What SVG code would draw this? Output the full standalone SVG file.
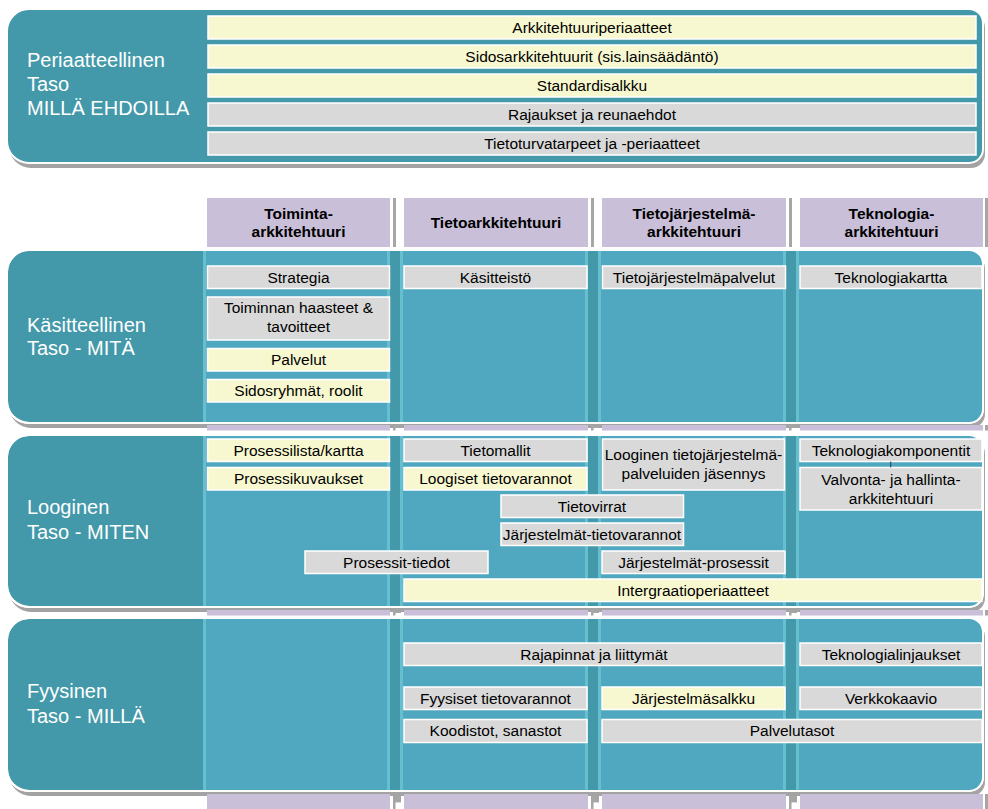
<svg xmlns="http://www.w3.org/2000/svg" xmlns:xlink="http://www.w3.org/1999/xlink" width="988" height="809" viewBox="0 0 988 809">
  <style>
    text { font-family: "Liberation Sans", Arial, sans-serif; }
    .bt { font-size: 15.5px; text-anchor: middle; fill: #000; }
    .ht { font-size: 15.5px; font-weight: bold; text-anchor: middle; fill: #000; }
    .lbl { font-size: 20px; fill: #fff; }
    .yel { fill: #F8F8D0; stroke: #fff; stroke-width: 1.5; }
    .gry { fill: #D9D9D9; stroke: #fff; stroke-width: 1.5; }
    .pnl { fill: #4399AA; stroke: #fff; stroke-width: 2; }
    .shd { fill: #A3A3A3; }
    .col { fill: #50A7C0; }
    .edge { fill: #66BFCF; }
    .pur { fill: #C9BFD9; }
    .sep { fill: #A6A6A6; }
  </style>
  <defs>
    <path id="pTop" d="M29,9 H969 A14,14 0 0 1 983,23 V149 A14,14 0 0 1 969,163 H29 A22,22 0 0 1 7,141 V31 A22,22 0 0 1 29,9 Z"/>
    <path id="pK" d="M29,250 H969 A14,14 0 0 1 983,264 V409 A14,14 0 0 1 969,423 H29 A22,22 0 0 1 7,401 V272 A22,22 0 0 1 29,250 Z"/>
    <path id="pL" d="M29,435 H969 A14,14 0 0 1 983,449 V593 A14,14 0 0 1 969,607 H29 A22,22 0 0 1 7,585 V457 A22,22 0 0 1 29,435 Z"/>
    <path id="pF" d="M29,618 H969 A14,14 0 0 1 983,632 V777 A14,14 0 0 1 969,791 H29 A22,22 0 0 1 7,769 V640 A22,22 0 0 1 29,618 Z"/>
    <clipPath id="cK"><use xlink:href="#pK"/></clipPath>
    <clipPath id="cL"><use xlink:href="#pL"/></clipPath>
    <clipPath id="cF"><use xlink:href="#pF"/></clipPath>
    <!-- column bands inside a level panel -->
    <g id="bands">
      <rect class="col" x="203" y="0" width="187" height="200"/>
      <rect class="col" x="400" y="0" width="188" height="200"/>
      <rect class="col" x="598" y="0" width="188" height="200"/>
      <rect class="col" x="796" y="0" width="192" height="200"/>
      <rect class="edge" x="203" y="0" width="3" height="200"/>
      <rect class="edge" x="387" y="0" width="3" height="200"/>
      <rect class="edge" x="400" y="0" width="3" height="200"/>
      <rect class="edge" x="585" y="0" width="3" height="200"/>
      <rect class="edge" x="598" y="0" width="3" height="200"/>
      <rect class="edge" x="783" y="0" width="3" height="200"/>
      <rect class="edge" x="796" y="0" width="3" height="200"/>
    </g>
    <!-- column strip + separator tick between level panels -->
    <g id="gap">
      <rect class="pur" x="207" y="0" width="183" height="5.5"/>
      <rect class="pur" x="404" y="0" width="184" height="5.5"/>
      <rect class="pur" x="602" y="0" width="184" height="5.5"/>
      <rect class="pur" x="800" y="0" width="183" height="5.5"/>
      <rect class="sep" x="393" y="0.5" width="8" height="2.5"/>
      <rect class="sep" x="393" y="0.5" width="2.5" height="5"/>
      <rect class="sep" x="591" y="0.5" width="8" height="2.5"/>
      <rect class="sep" x="591" y="0.5" width="2.5" height="5"/>
      <rect class="sep" x="789" y="0.5" width="8" height="2.5"/>
      <rect class="sep" x="789" y="0.5" width="2.5" height="5"/>
      <rect class="sep" x="985" y="0" width="3" height="5.5"/>
    </g>
  </defs>

  <rect width="988" height="809" fill="#fff"/>

  <!-- Periaatteellinen taso -->
  <g id="periaatteellinen">
    <use xlink:href="#pTop" class="shd" transform="translate(2,5)"/>
    <use xlink:href="#pTop" class="pnl"/>
    <text class="lbl" x="27" y="67">Periaatteellinen</text>
    <text class="lbl" x="27" y="91">Taso</text>
    <text class="lbl" x="27" y="115">MILLÄ EHDOILLA</text>
  </g>
  <g id="arkkitehtuuriperiaatteet"><rect class="yel" x="208" y="16" width="768" height="23"/><text class="bt" x="592" y="33">Arkkitehtuuriperiaatteet</text></g>
  <g id="sidosarkkitehtuurit"><rect class="yel" x="208" y="45" width="768" height="23"/><text class="bt" x="592" y="62">Sidosarkkitehtuurit (sis.lainsäädäntö)</text></g>
  <g id="standardisalkku"><rect class="yel" x="208" y="74" width="768" height="23"/><text class="bt" x="592" y="91">Standardisalkku</text></g>
  <g id="rajaukset"><rect class="gry" x="208" y="103" width="768" height="23"/><text class="bt" x="592" y="120">Rajaukset ja reunaehdot</text></g>
  <g id="tietoturvatarpeet"><rect class="gry" x="208" y="132" width="768" height="23"/><text class="bt" x="592" y="149">Tietoturvatarpeet ja -periaatteet</text></g>

  <!-- Column headers -->
  <g id="sarakkeet">
    <rect class="pur" x="207" y="198" width="183" height="49"/>
    <rect class="pur" x="404" y="198" width="184" height="49"/>
    <rect class="pur" x="602" y="198" width="184" height="49"/>
    <rect class="pur" x="800" y="198" width="183" height="49"/>
    <rect class="sep" x="393" y="198" width="3" height="49"/>
    <rect class="sep" x="591" y="198" width="3" height="49"/>
    <rect class="sep" x="789" y="198" width="3" height="49"/>
    <rect class="sep" x="985" y="198" width="3" height="49"/>
    <text class="ht" x="298.5" y="218.5">Toiminta-</text>
    <text class="ht" x="298.5" y="237">arkkitehtuuri</text>
    <text class="ht" x="496" y="228">Tietoarkkitehtuuri</text>
    <text class="ht" x="694" y="218.5">Tietojärjestelmä-</text>
    <text class="ht" x="694" y="237">arkkitehtuuri</text>
    <text class="ht" x="891.5" y="218.5">Teknologia-</text>
    <text class="ht" x="891.5" y="237">arkkitehtuuri</text>
  </g>

  <!-- Level panels -->
  <g id="kasitteellinen">
    <use xlink:href="#pK" class="shd" transform="translate(2,5)"/>
    <use xlink:href="#gap" y="425"/>
    <use xlink:href="#pK" class="pnl"/>
    <g clip-path="url(#cK)"><use xlink:href="#bands" y="240"/></g>
    <use xlink:href="#pK" fill="none" stroke="#fff" stroke-width="2"/>
    <text class="lbl" x="27" y="332">Käsitteellinen</text>
    <text class="lbl" x="27" y="355">Taso - MITÄ</text>
  </g>
  <g id="looginen">
    <use xlink:href="#pL" class="shd" transform="translate(2,5)"/>
    <use xlink:href="#gap" y="610"/>
    <use xlink:href="#pL" class="pnl"/>
    <g clip-path="url(#cL)"><use xlink:href="#bands" y="425"/></g>
    <use xlink:href="#pL" fill="none" stroke="#fff" stroke-width="2"/>
    <text class="lbl" x="27" y="514">Looginen</text>
    <text class="lbl" x="27" y="539">Taso - MITEN</text>
  </g>
  <g id="fyysinen">
    <use xlink:href="#pF" class="shd" transform="translate(2,5)"/>
    <g transform="translate(0,794) scale(1,2.8)"><use xlink:href="#gap"/></g>
    <use xlink:href="#pF" class="pnl"/>
    <g clip-path="url(#cF)"><use xlink:href="#bands" y="610"/></g>
    <use xlink:href="#pF" fill="none" stroke="#fff" stroke-width="2"/>
    <text class="lbl" x="27" y="698">Fyysinen</text>
    <text class="lbl" x="27" y="723">Taso - MILLÄ</text>
  </g>

  <!-- Käsitteellinen taso -->
  <g id="strategia"><rect class="gry" x="207.5" y="266" width="182" height="22.5"/><text class="bt" x="298.5" y="282.5">Strategia</text></g>
  <g id="haasteet"><rect class="gry" x="207.5" y="297" width="182" height="43"/><text class="bt" x="298.5" y="313">Toiminnan haasteet &amp;</text><text class="bt" x="298.5" y="332">tavoitteet</text></g>
  <g id="palvelut"><rect class="yel" x="207.5" y="348.5" width="182" height="22.5"/><text class="bt" x="298.5" y="365">Palvelut</text></g>
  <g id="sidosryhmat"><rect class="yel" x="207.5" y="379.5" width="182" height="22.5"/><text class="bt" x="298.5" y="396">Sidosryhmät, roolit</text></g>
  <g id="kasitteisto"><rect class="gry" x="404" y="266" width="183" height="22.5"/><text class="bt" x="495.5" y="282.5">Käsitteistö</text></g>
  <g id="tjpalvelut"><rect class="gry" x="602.5" y="266" width="183" height="22.5"/><text class="bt" x="694" y="282.5">Tietojärjestelmäpalvelut</text></g>
  <g id="teknologiakartta"><rect class="gry" x="800" y="266" width="182" height="22.5"/><text class="bt" x="891" y="282.5">Teknologiakartta</text></g>

  <!-- Looginen taso -->
  <g id="prosessilista"><rect class="yel" x="207.5" y="439" width="182" height="22.5"/><text class="bt" x="298.5" y="455.5">Prosessilista/kartta</text></g>
  <g id="prosessikuvaukset"><rect class="yel" x="207.5" y="467.5" width="182" height="22.5"/><text class="bt" x="298.5" y="484">Prosessikuvaukset</text></g>
  <g id="tietomallit"><rect class="gry" x="404" y="439" width="183" height="22.5"/><text class="bt" x="495.5" y="455.5">Tietomallit</text></g>
  <g id="loogisettietovarannot"><rect class="yel" x="404" y="467.5" width="183" height="22.5"/><text class="bt" x="495.5" y="484">Loogiset tietovarannot</text></g>
  <g id="tjjasennys"><rect class="gry" x="602.5" y="439" width="182" height="51"/><text class="bt" x="693.5" y="460">Looginen tietojärjestelmä-</text><text class="bt" x="693.5" y="478.5">palveluiden jäsennys</text></g>
  <g id="teknologiakomponentit"><rect class="gry" x="800" y="439" width="182" height="22.5"/><text class="bt" x="891" y="455.5">Teknologiakomponentit</text></g>
  <g id="valvonta"><rect class="gry" x="800" y="467.5" width="182" height="42.5"/><text class="bt" x="891" y="485">Valvonta- ja hallinta-</text><text class="bt" x="891" y="504">arkkitehtuuri</text></g>
  <g id="tietovirrat"><rect class="gry" x="501" y="495" width="182.5" height="22.5"/><text class="bt" x="592" y="511.5">Tietovirrat</text></g>
  <g id="jarjestelmat-tietovarannot"><rect class="gry" x="501" y="523" width="182.5" height="22.5"/><text class="bt" x="592" y="539.5">Järjestelmät-tietovarannot</text></g>
  <g id="prosessit-tiedot"><rect class="gry" x="305" y="551" width="183" height="22.5"/><text class="bt" x="396.5" y="567.5">Prosessit-tiedot</text></g>
  <g id="jarjestelmat-prosessit"><rect class="gry" x="602" y="551" width="183" height="22.5"/><text class="bt" x="693.5" y="567.5">Järjestelmät-prosessit</text></g>
  <g id="integraatio"><rect class="yel" x="404" y="579" width="578" height="22.5"/><text class="bt" x="693" y="595.5">Intergraatioperiaatteet</text></g>

  <!-- Fyysinen taso -->
  <g id="rajapinnat"><rect class="gry" x="404" y="643" width="380" height="22.5"/><text class="bt" x="594" y="659.5">Rajapinnat ja liittymät</text></g>
  <g id="teknologialinjaukset"><rect class="gry" x="800" y="643" width="182" height="22.5"/><text class="bt" x="891" y="659.5">Teknologialinjaukset</text></g>
  <g id="fyysisettietovarannot"><rect class="gry" x="404" y="687" width="183" height="22.5"/><text class="bt" x="495.5" y="703.5">Fyysiset tietovarannot</text></g>
  <g id="jarjestelmasalkku"><rect class="yel" x="602" y="687" width="183" height="22.5"/><text class="bt" x="693.5" y="703.5">Järjestelmäsalkku</text></g>
  <g id="verkkokaavio"><rect class="gry" x="800" y="687" width="182" height="22.5"/><text class="bt" x="891" y="703.5">Verkkokaavio</text></g>
  <g id="koodistot"><rect class="gry" x="404" y="719.5" width="183" height="23"/><text class="bt" x="495.5" y="736">Koodistot, sanastot</text></g>
  <g id="palvelutasot"><rect class="gry" x="602" y="719.5" width="380" height="23"/><text class="bt" x="792" y="736">Palvelutasot</text></g>

  <!-- Connectors -->
  <g id="connectors">
    <line x1="890.7" y1="461.5" x2="890.7" y2="467.5" stroke="#3a3a3a" stroke-width="1"/>
  </g>
</svg>
